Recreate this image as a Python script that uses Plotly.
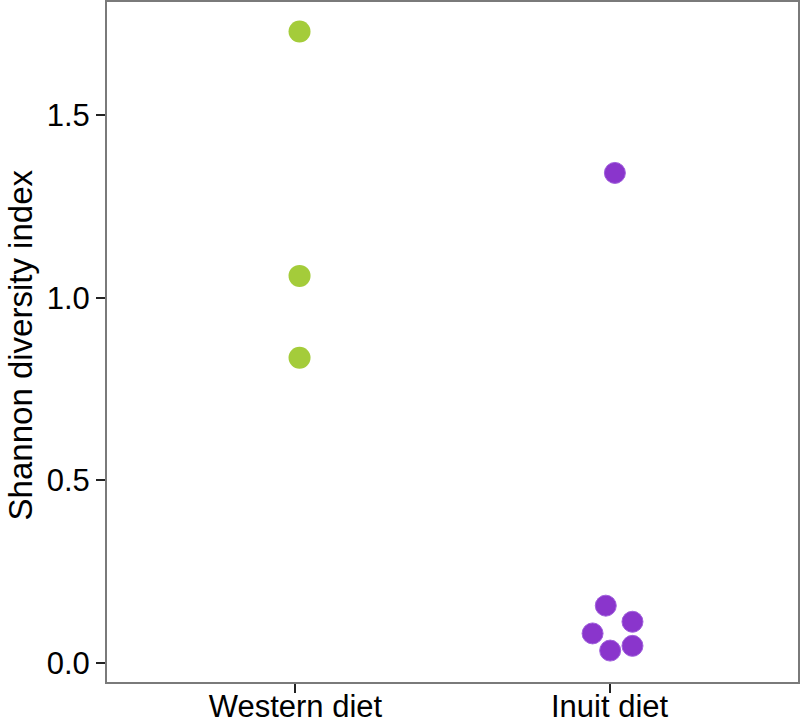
import plotly.graph_objects as go

categories = ["Western diet", "Inuit diet"]
western_x = [1.013, 1.013, 1.013]
western_y = [1.729, 1.060, 0.836]
inuit_x = [2.017, 1.988, 2.073, 1.946, 2.002, 2.073]
inuit_y = [1.342, 0.157, 0.113, 0.081, 0.034, 0.047]
y_ticks = [0.0, 0.5, 1.0, 1.5]
y_tick_labels = ["0.0", "0.5", "1.0", "1.5"]
y_title = "Shannon diversity index"

fig = go.Figure()
fig.add_trace(go.Scatter(
    x=western_x, y=western_y, mode="markers",
    marker=dict(size=22, color="#a4cc3a", line=dict(width=0)),
    showlegend=False, cliponaxis=False))
fig.add_trace(go.Scatter(
    x=inuit_x, y=inuit_y, mode="markers",
    marker=dict(size=21, color="#8a35cc", line=dict(width=1, color="#a060dc")),
    showlegend=False, cliponaxis=False))

axis_line = "#7a7a7a"
fig.update_layout(
    width=800, height=723,
    margin=dict(l=107, r=2, t=2, b=41),
    paper_bgcolor="white", plot_bgcolor="white",
    font=dict(family="Liberation Sans, Arial, sans-serif", color="black"),
    xaxis=dict(
        range=[0.4, 2.6], tickvals=[1, 2], ticktext=categories,
        showgrid=False, zeroline=False, automargin=False,
        showline=True, linecolor=axis_line, linewidth=2, mirror=True,
        ticks="outside", ticklen=9, tickwidth=2, tickcolor="#222222",
        tickfont=dict(size=31, color="black"), ticklabelstandoff=-13,
    ),
    yaxis=dict(
        range=[-0.052, 1.81], tickvals=y_ticks, ticktext=y_tick_labels,
        showgrid=False, zeroline=False, automargin=False,
        showline=True, linecolor=axis_line, linewidth=2, mirror=True,
        ticks="outside", ticklen=9, tickwidth=2, tickcolor="#222222",
        tickfont=dict(size=31, color="black"),
    ),
    annotations=[dict(
        text=y_title, textangle=-90, showarrow=False,
        xref="paper", yref="paper", x=0, y=0.495,
        xanchor="center", yanchor="middle", xshift=-87,
        font=dict(size=33, color="black"),
    )],
)

fig.write_html("out.html", config={"displayModeBar": False},
               post_script="document.body.style.margin='0px';")
